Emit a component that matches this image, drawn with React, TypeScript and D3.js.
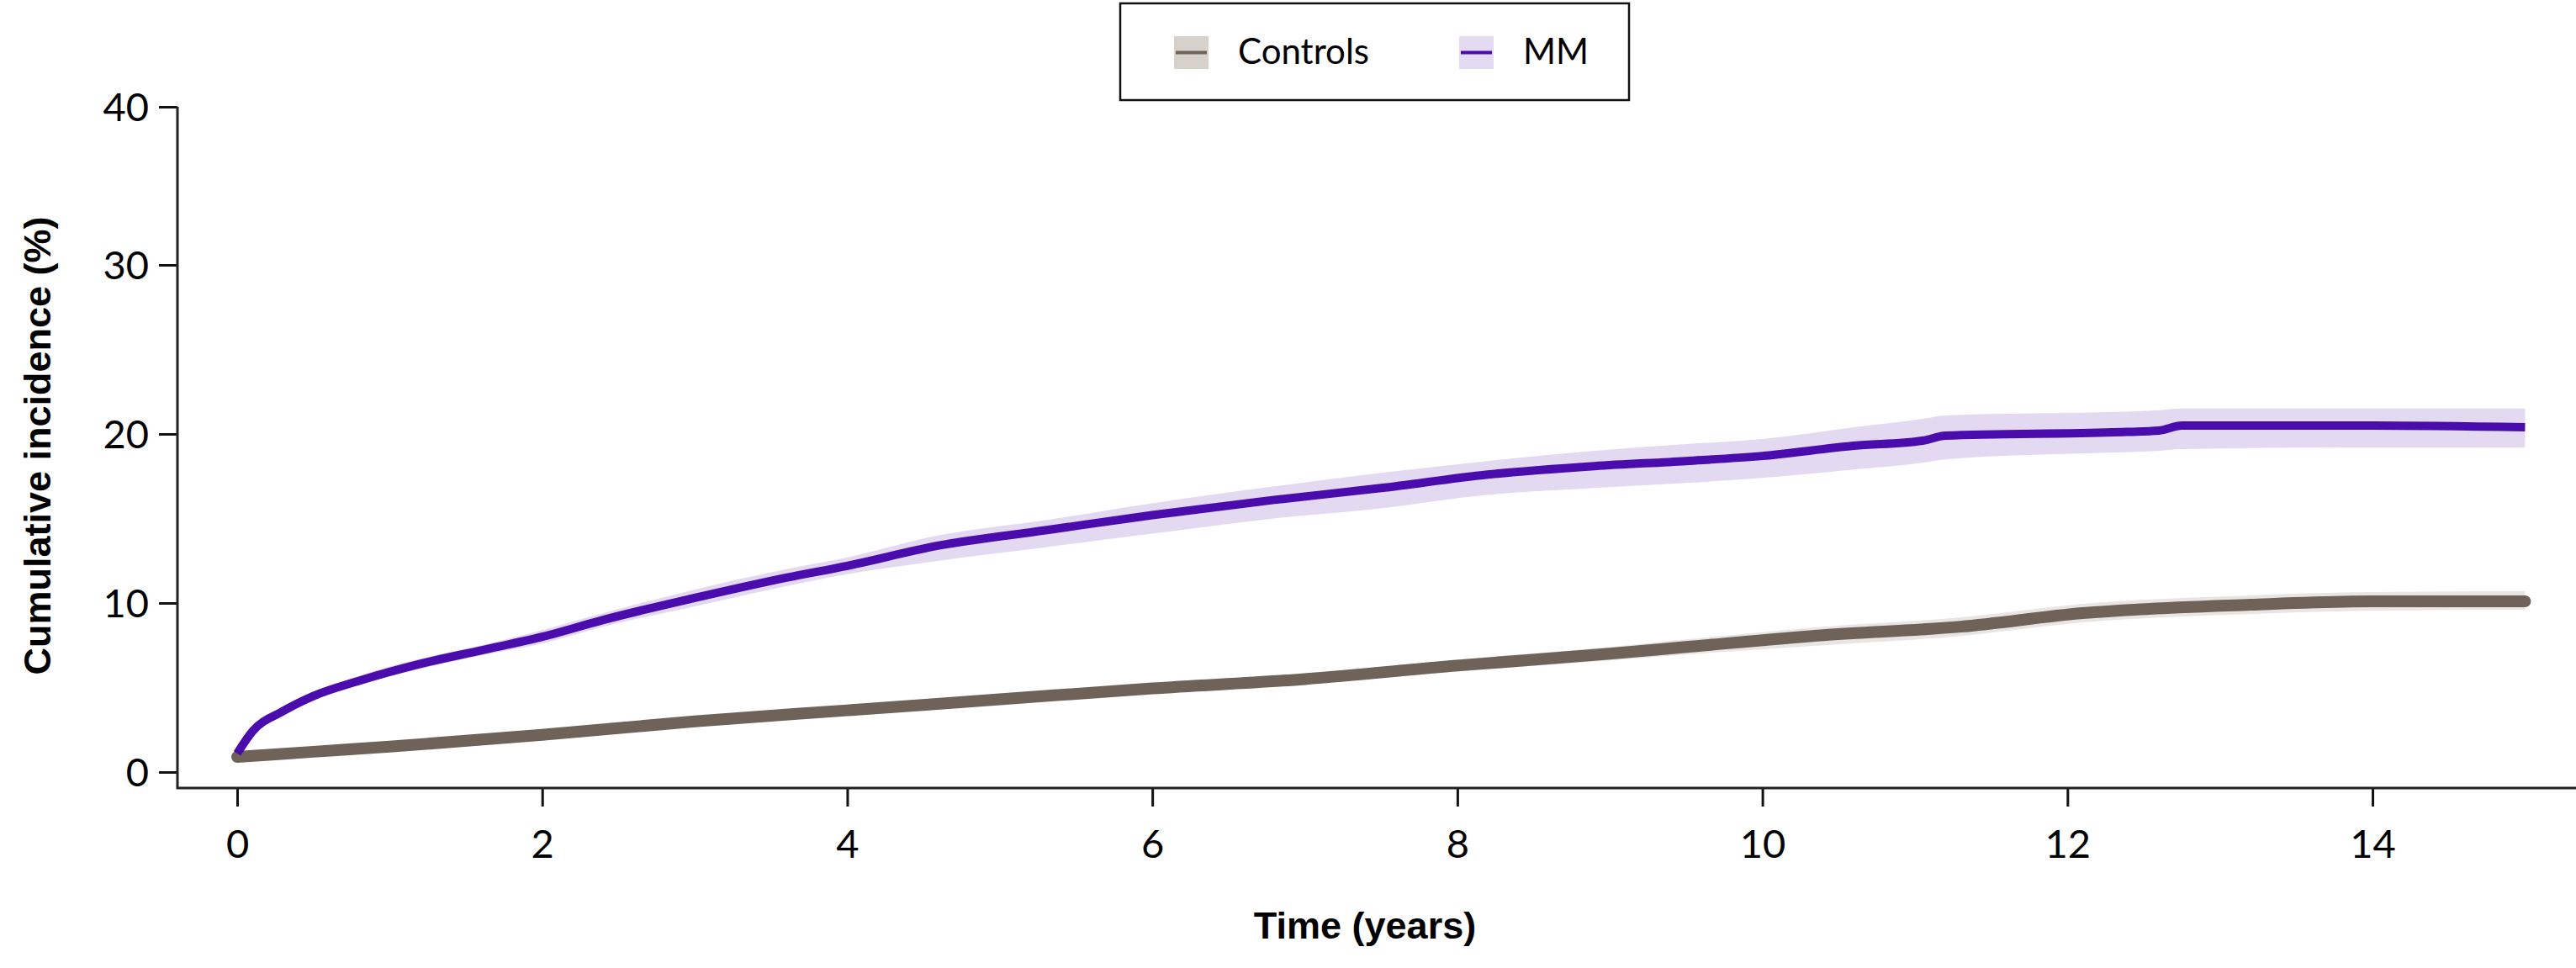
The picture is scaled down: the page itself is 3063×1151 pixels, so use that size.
import { useEffect, useRef } from 'react'
import * as d3 from 'd3'

// MM (multiple myeloma) cumulative incidence, %
const mmTime = [0, 0.1, 0.3, 0.5, 0.8, 1.2, 1.6, 2.0, 2.4, 3.0, 3.6, 4.0, 4.6, 5.3, 6.0, 6.8, 7.5, 8.2, 8.9, 9.5, 10.0, 10.6, 11.05, 11.2, 12.3, 12.6, 12.75, 14.0, 15.0]
const mmValue = [1.1, 2.4, 3.6, 4.5, 5.4, 6.4, 7.2, 8.0, 9.0, 10.3, 11.5, 12.2, 13.4, 14.3, 15.2, 16.1, 16.8, 17.6, 18.1, 18.4, 18.7, 19.3, 19.6, 19.9, 20.1, 20.2, 20.5, 20.5, 20.4]
const mmLower = [1.0, 2.2, 3.4, 4.3, 5.2, 6.1, 6.9, 7.6, 8.6, 9.8, 11.0, 11.7, 12.5, 13.3, 14.1, 15.0, 15.6, 16.4, 16.8, 17.1, 17.4, 17.9, 18.3, 18.5, 18.9, 19.0, 19.1, 19.2, 19.2]
const mmUpper = [1.2, 2.6, 3.8, 4.7, 5.7, 6.7, 7.5, 8.4, 9.4, 10.8, 12.0, 12.7, 14.0, 14.9, 15.9, 16.9, 17.7, 18.4, 19.0, 19.4, 19.7, 20.4, 20.9, 21.1, 21.3, 21.4, 21.5, 21.5, 21.5]

// Controls
const ctrlTime = [0, 0.5, 1, 2, 3, 4, 5, 6, 7, 8, 9, 9.5, 10.4, 11.3, 12.1, 13.2, 14, 15]
const ctrlValue = [0.9, 1.2, 1.5, 2.2, 3.0, 3.65, 4.3, 4.95, 5.5, 6.3, 7.0, 7.4, 8.1, 8.6, 9.4, 9.9, 10.1, 10.1]
const ctrlLower = [0.8, 1.1, 1.4, 2.0, 2.8, 3.4, 4.05, 4.65, 5.2, 5.95, 6.6, 6.95, 7.5, 8.05, 8.85, 9.35, 9.55, 9.6]
const ctrlUpper = [1.0, 1.3, 1.6, 2.4, 3.2, 3.9, 4.55, 5.25, 5.8, 6.65, 7.4, 7.85, 8.6, 9.15, 9.95, 10.45, 10.65, 10.7]

const xTicks = [0, 2, 4, 6, 8, 10, 12, 14]
const yTicks = [0, 10, 20, 30, 40]
const seriesNames = ['Controls', 'MM']

const W = 3063
const H = 1151
const tickFont = 'Lato, "Open Sans", sans-serif'
const titleFont = '"Liberation Sans", Arial, sans-serif'

const colors = {
  ctrlLine: '#6e6259',
  ctrlBand: '#e9e5e2',
  ctrlSwatch: '#d6d1cb',
  mmLine: '#4b0cad',
  mmBand: '#e3daf2',
  mmSwatch: '#e4dbf3',
}

export default function App() {
  const ref = useRef<SVGSVGElement>(null)

  useEffect(() => {
    if (!ref.current) return
    const svg = d3.select(ref.current)
    svg.selectAll('*').remove()

    const x = d3.scaleLinear().domain([0, 15]).range([282, 282 + 15 * 181.36])
    // the original's top tick sits a little off the linear spacing
    const y = d3.scaleLinear().domain([0, 30, 40]).range([918, 315, 127])

    const axisY = 937
    const axisX = 211

    // CI bands
    const band = (t: number[], lo: number[], hi: number[]) =>
      d3.area<number>()
        .x((_, i) => x(t[i]))
        .y0((_, i) => y(lo[i]))
        .y1((_, i) => y(hi[i]))
        .curve(d3.curveMonotoneX)(t)

    const line = (t: number[], v: number[]) =>
      d3.line<number>()
        .x((_, i) => x(t[i]))
        .y((_, i) => y(v[i]))
        .curve(d3.curveMonotoneX)(t)

    svg.append('path').attr('d', band(ctrlTime, ctrlLower, ctrlUpper)).attr('fill', colors.ctrlBand)
    svg.append('path').attr('d', band(mmTime, mmLower, mmUpper)).attr('fill', colors.mmBand)

    svg.append('path')
      .attr('d', line(ctrlTime, ctrlValue))
      .attr('fill', 'none')
      .attr('stroke', colors.ctrlLine)
      .attr('stroke-width', 14)
      .attr('stroke-linecap', 'round')
      .attr('stroke-linejoin', 'round')

    svg.append('path')
      .attr('d', line(mmTime, mmValue))
      .attr('fill', 'none')
      .attr('stroke', colors.mmLine)
      .attr('stroke-width', 10)
      .attr('stroke-linecap', 'butt')
      .attr('stroke-linejoin', 'round')

    // axes
    const gy = svg.append('g').attr('transform', `translate(${axisX},0)`)
      .call(d3.axisLeft(y).tickValues(yTicks).tickSize(22).tickSizeOuter(0).tickPadding(12))
    gy.select('.domain').remove()
    gy.selectAll('line').attr('stroke', '#111').attr('stroke-width', 3)
    gy.selectAll('text')
      .attr('fill', '#000')
      .attr('dy', '0.36em')
      .style('font-family', tickFont)
      .style('font-size', '47px')

    const gx = svg.append('g').attr('transform', `translate(0,${axisY})`)
      .call(d3.axisBottom(x).tickValues(xTicks).tickSize(22).tickSizeOuter(0).tickPadding(28))
    gx.select('.domain').remove()
    gx.selectAll('line').attr('stroke', '#111').attr('stroke-width', 3)
    gx.selectAll('text')
      .attr('fill', '#000')
      .style('font-family', tickFont)
      .style('font-size', '47px')

    svg.append('path')
      .attr('d', `M${axisX},${y(40)}V${axisY}H${W}`)
      .attr('fill', 'none')
      .attr('stroke', '#222')
      .attr('stroke-width', 3)

    // axis titles
    svg.append('text')
      .attr('transform', `translate(60,${530}) rotate(-90)`)
      .attr('text-anchor', 'middle')
      .style('font-family', titleFont)
      .style('font-weight', 'bold')
      .style('font-size', '45px')
      .text('Cumulative incidence (%)')

    svg.append('text')
      .attr('x', 1623)
      .attr('y', 1116)
      .attr('text-anchor', 'middle')
      .style('font-family', titleFont)
      .style('font-weight', 'bold')
      .style('font-size', '45px')
      .text('Time (years)')

    // legend
    const legend = svg.append('g')
    legend.append('rect')
      .attr('x', 1332).attr('y', 4).attr('width', 605).attr('height', 115)
      .attr('fill', '#fff').attr('stroke', '#111').attr('stroke-width', 2.5)

    const items = [
      { name: seriesNames[0], x: 1396, sw: colors.ctrlSwatch, ln: colors.ctrlLine },
      { name: seriesNames[1], x: 1735, sw: colors.mmSwatch, ln: colors.mmLine },
    ]
    items.forEach(it => {
      legend.append('rect')
        .attr('x', it.x).attr('y', 43).attr('width', 41).attr('height', 39)
        .attr('fill', it.sw)
      legend.append('line')
        .attr('x1', it.x + 2).attr('x2', it.x + 39)
        .attr('y1', 62.5).attr('y2', 62.5)
        .attr('stroke', it.ln).attr('stroke-width', 4)
      legend.append('text')
        .attr('x', it.x + 76).attr('y', 76)
        .style('font-family', tickFont)
        .style('font-size', '42px')
        .attr('fill', '#000')
        .text(it.name)
    })
  }, [])

  return (
    <svg
      ref={ref}
      width={W}
      height={H}
      style={{ position: 'absolute', left: 0, top: 0, background: '#fff' }}
    />
  )
}
